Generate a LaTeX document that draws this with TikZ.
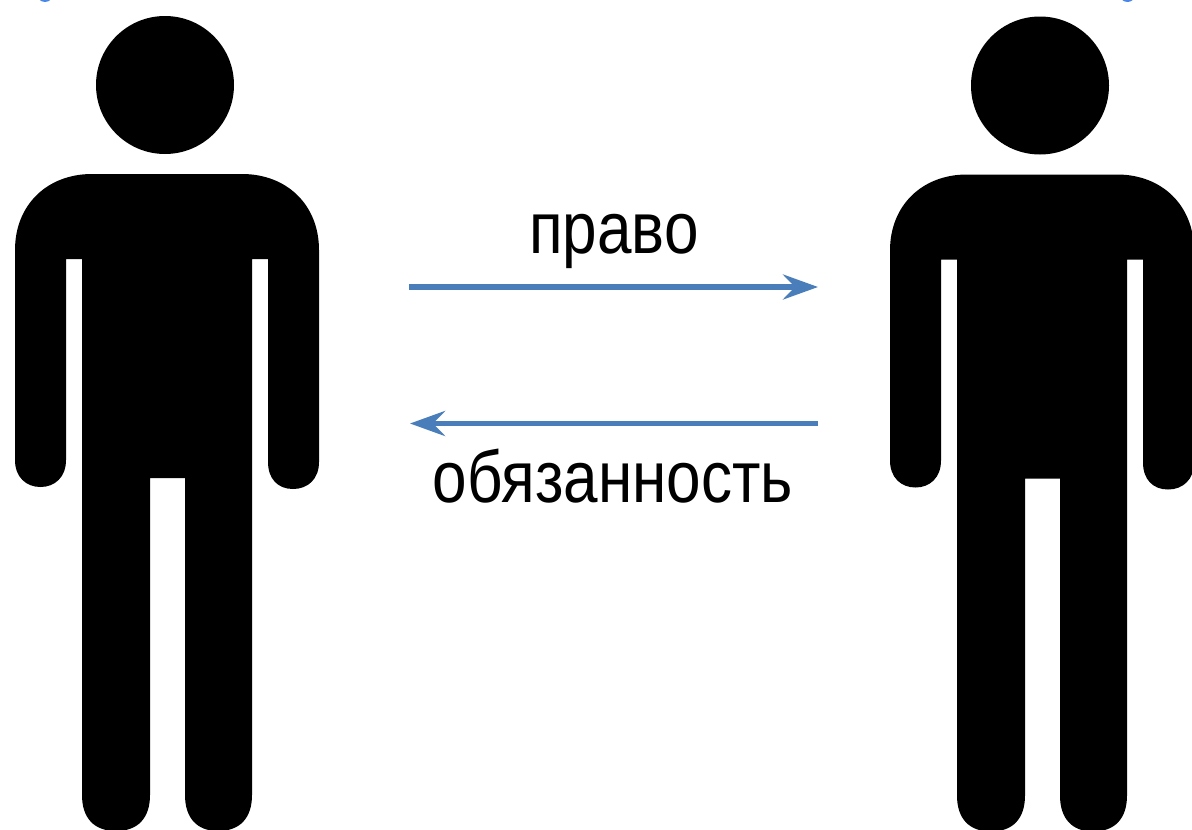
\documentclass[tikz,border=0pt]{standalone}
\usepackage{fontspec}
\usetikzlibrary{arrows.meta}
\setmainfont{Liberation Sans}
\newfontfamily\condfont[FakeStretch=0.85]{Liberation Sans}
\definecolor{arrowblue}{HTML}{4A7EBB}
\definecolor{dotblue}{HTML}{4A86E8}
\tikzset{
  x=1pt,y=-1pt,
  link/.style={draw=arrowblue,line width=5.4pt,-{Stealth[length=35pt,width=25pt,inset=12pt,fill=arrowblue]}},
  word/.style={anchor=base,inner sep=0pt,font=\condfont\fontsize{73}{76}\selectfont,text=black},
  person/.pic={
    \fill[black] (165,85) circle[radius=69];
    \fill[black] (15,250)
      .. controls (15,205) and (47,174) .. (92,174)
      -- (242,174)
      .. controls (287,174) and (319,205) .. (319,250)
      -- (319,462)
      .. controls (319,479) and (308,489) .. (293,489)
      .. controls (278,489) and (268,479) .. (268,462)
      -- (268,259) -- (252,259)
      -- (252,795)
      .. controls (252,818) and (240,831) .. (218,831)
      .. controls (197,831) and (185,818) .. (185,795)
      -- (185,478) -- (150,478)
      -- (150,795)
      .. controls (150,818) and (138,831) .. (116,831)
      .. controls (94,831) and (82,818) .. (82,795)
      -- (82,259) -- (66,259)
      -- (66,460)
      .. controls (66,477) and (55,487) .. (40.5,487)
      .. controls (26,487) and (15,477) .. (15,460)
      -- cycle;
  }
}
\begin{document}
\begin{tikzpicture}
\useasboundingbox (0,0) rectangle (1192,830);
\clip (0,0) rectangle (1192,830);
\fill[white] (0,0) rectangle (1192,830);
\fill[dotblue] (45,-6) circle[radius=8];
\fill[dotblue] (1127.5,-6) circle[radius=8];
\pic at (0,0) {person};
\pic at (875,0.5) {person};
\coordinate (r1) at (409,287);
\coordinate (r2) at (818,287);
\coordinate (o1) at (818,423.5);
\coordinate (o2) at (410,423.5);
\draw[link] (r1) -- (r2);
\draw[link] (o1) -- (o2);
\node[word] (pravo) at (614,253) {право};
\node[word] (obyaz) at (613,502) {обязанность};
\end{tikzpicture}
\end{document}
